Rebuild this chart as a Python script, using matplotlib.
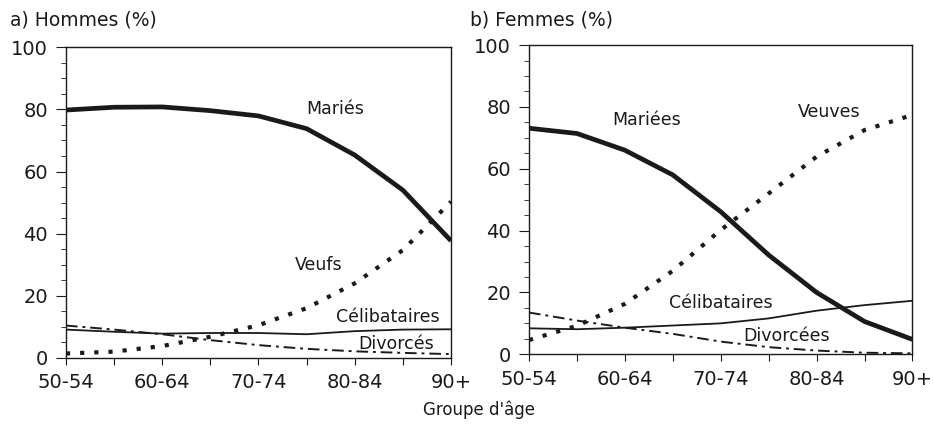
import numpy as np
import matplotlib
matplotlib.use("Agg")
import matplotlib.pyplot as plt
from matplotlib.ticker import MultipleLocator

ages = ["50-54", "55-59", "60-64", "65-69", "70-74", "75-79", "80-84", "85-89", "90+"]

# Hommes (%)
h_maries = [79.8, 80.7, 80.8, 79.6, 77.9, 73.8, 65.3, 54.0, 37.7]
h_veufs = [1.4, 2.0, 3.8, 6.8, 10.5, 16.0, 24.0, 34.7, 50.3]
h_celib = [9.1, 8.4, 7.8, 8.0, 8.0, 7.6, 8.6, 9.1, 9.2]
h_divorces = [10.4, 9.1, 7.6, 5.7, 4.1, 2.9, 2.1, 1.6, 1.2]

# Femmes (%)
f_mariees = [73.1, 71.4, 66.0, 58.0, 46.1, 32.1, 20.0, 10.6, 4.8]
f_veuves = [4.6, 9.2, 16.3, 27.0, 40.2, 52.0, 63.9, 72.5, 77.4]
f_celib = [8.4, 8.1, 8.6, 9.3, 10.0, 11.6, 14.1, 15.9, 17.3]
f_divorcees = [13.5, 10.9, 8.6, 6.6, 4.1, 2.3, 1.2, 0.5, 0.3]

ink = "#1a1a1a"
plt.rcParams["font.family"] = ["DejaVu Sans"]

fig = plt.figure(figsize=(9.33, 4.25), dpi=100)
ax1 = fig.add_axes([0.0707, 0.158, 0.4127, 0.7307])
ax2 = fig.add_axes([0.567, 0.1664, 0.411, 0.7276])

x = np.arange(len(ages))

def draw(ax, mar, veu, cel, div, labels):
    ax.plot(x, mar, color=ink, lw=3.4, solid_capstyle="butt")
    ax.plot(x, veu, color=ink, lw=3.0, linestyle=(0, (1, 2.4)), dash_capstyle="butt")
    ax.plot(x, cel, color=ink, lw=1.3)
    ax.plot(x, div, color=ink, lw=1.4, linestyle=(0, (6, 2.5, 1.5, 2.5)))
    for txt, tx, ty in labels:
        ax.text(tx, ty, txt, fontsize=12.5, color=ink, ha="center", va="center")
    ax.set_xlim(0, len(ages) - 1)
    ax.set_ylim(0, 100)
    ax.set_xticks(x)
    ax.set_xticklabels([a if i % 2 == 0 else "" for i, a in enumerate(ages)])
    ax.yaxis.set_major_locator(MultipleLocator(20))
    ax.yaxis.set_minor_locator(MultipleLocator(5))
    ax.tick_params(axis="x", which="major", labelsize=14, length=5, color=ink,
                   labelcolor=ink, pad=6)
    ax.tick_params(axis="y", which="major", labelsize=14, length=7, color=ink,
                   labelcolor=ink, pad=6)
    ax.tick_params(axis="y", which="minor", length=3.5, color=ink)
    for s in ax.spines.values():
        s.set_color(ink)
        s.set_linewidth(1.0)

draw(ax1, h_maries, h_veufs, h_celib, h_divorces,
     [("Mariés", 5.6, 80.1), ("Veufs", 5.26, 29.9),
      ("Célibataires", 6.68, 13.2), ("Divorcés", 6.86, 4.6)])
draw(ax2, f_mariees, f_veuves, f_celib, f_divorcees,
     [("Mariées", 2.45, 75.8), ("Veuves", 6.27, 78.4),
      ("Célibataires", 4.0, 16.5), ("Divorcées", 5.37, 5.9)])

fig.text(0.011, 0.953, "a) Hommes (%)", fontsize=13.5, color=ink, va="center")
fig.text(0.504, 0.953, "b) Femmes (%)", fontsize=13.5, color=ink, va="center")
fig.text(0.513, 0.035, "Groupe d'âge", fontsize=12, color=ink, ha="center", va="center")

fig.savefig("out.png", dpi=100)
